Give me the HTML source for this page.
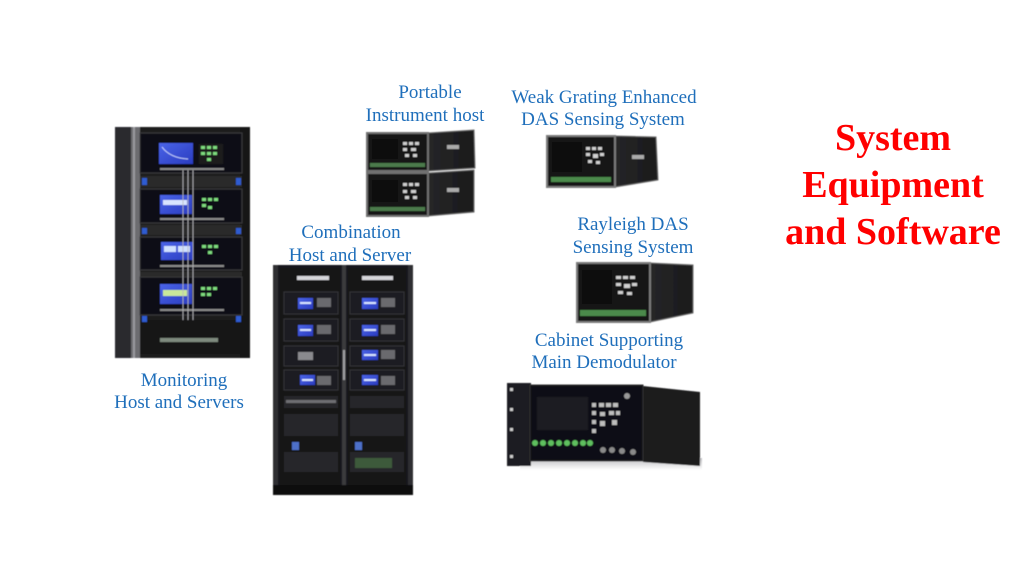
<!DOCTYPE html>
<html>
<head>
<meta charset="utf-8">
<style>
html,body{margin:0;padding:0;background:#fff;}
svg{display:block;}
.lb{font-family:"Liberation Serif",serif;font-size:19px;fill:#1f6fbb;text-anchor:middle;}
.tt{font-family:"Liberation Serif",serif;font-size:38px;font-weight:bold;fill:#f00;text-anchor:middle;}
</style>
</head>
<body>
<svg width="1024" height="576" viewBox="0 0 1024 576" xmlns="http://www.w3.org/2000/svg">
<defs>
<linearGradient id="scr" x1="0" y1="0" x2="1" y2="1">
<stop offset="0" stop-color="#4a64e8"/><stop offset="1" stop-color="#2a3cc0"/>
</linearGradient>
<linearGradient id="side" x1="0" y1="0" x2="1" y2="0">
<stop offset="0" stop-color="#262628"/><stop offset="1" stop-color="#1a1a1b"/>
</linearGradient>
<linearGradient id="shad" x1="0" y1="0" x2="0" y2="1">
<stop offset="0" stop-color="#bdbdc0"/><stop offset="1" stop-color="#ffffff"/>
</linearGradient>
<filter id="soft" x="-5%" y="-5%" width="110%" height="110%"><feGaussianBlur stdDeviation="0.5"/></filter>
</defs>

<!-- ===== Monitoring rack ===== -->
<g filter="url(#soft)">
<rect x="115" y="127" width="135" height="231" fill="#1b1b1d"/>
<rect x="115" y="127" width="16" height="231" fill="#2a2a2d"/>
<rect x="131" y="127" width="9" height="231" fill="#6c6c70"/>
<rect x="133" y="127" width="2" height="231" fill="#9a9a9e"/>
<rect x="240" y="127" width="10" height="231" fill="#141415"/>
<rect x="140" y="133" width="102" height="40" fill="#111113" stroke="#3a3a3c"/>
<rect x="159" y="143" width="34" height="21" fill="url(#scr)"/>
<path d="M162 147 Q170 158 188 159" stroke="#c8d4ff" fill="none" stroke-width="1"/>
<rect x="199" y="144" width="24" height="20" fill="#1a1f1a"/>
<g fill="#7fdc7f"><rect x="201" y="146" width="4" height="3"/><rect x="207" y="146" width="4" height="3"/><rect x="213" y="146" width="4" height="3"/><rect x="201" y="152" width="4" height="3"/><rect x="207" y="152" width="4" height="3"/><rect x="213" y="152" width="4" height="3"/><rect x="207" y="158" width="4" height="3"/></g>
<rect x="140" y="176" width="102" height="11" fill="#2a2a2c"/>
<rect x="140" y="189" width="102" height="34" fill="#111113" stroke="#3a3a3c"/>
<rect x="160" y="195" width="32" height="19" fill="url(#scr)"/>
<rect x="163" y="200" width="24" height="5" fill="#d8e4ff"/>
<g fill="#7fdc7f"><rect x="202" y="198" width="4" height="3"/><rect x="208" y="198" width="4" height="3"/><rect x="214" y="198" width="4" height="3"/><rect x="202" y="204" width="4" height="3"/><rect x="208" y="206" width="4" height="3"/></g>
<rect x="140" y="225" width="102" height="10" fill="#2a2a2c"/>
<rect x="140" y="237" width="102" height="33" fill="#111113" stroke="#3a3a3c"/>
<rect x="161" y="242" width="32" height="18" fill="url(#scr)"/>
<rect x="164" y="246" width="12" height="6" fill="#cfe0ff"/><rect x="178" y="246" width="12" height="6" fill="#cfe0ff"/>
<g fill="#7fdc7f"><rect x="202" y="245" width="4" height="3"/><rect x="208" y="245" width="4" height="3"/><rect x="214" y="245" width="4" height="3"/><rect x="208" y="251" width="4" height="3"/></g>
<rect x="140" y="272" width="102" height="4" fill="#2a2a2c"/>
<rect x="140" y="277" width="102" height="38" fill="#111113" stroke="#3a3a3c"/>
<rect x="160" y="284" width="32" height="20" fill="url(#scr)"/>
<rect x="163" y="290" width="24" height="6" fill="#c9e89a"/>
<g fill="#7fdc7f"><rect x="201" y="287" width="4" height="3"/><rect x="207" y="287" width="4" height="3"/><rect x="213" y="287" width="4" height="3"/><rect x="201" y="293" width="4" height="3"/><rect x="207" y="293" width="4" height="3"/></g>
<g fill="#8a8a8a"><rect x="160" y="168" width="64" height="2"/><rect x="160" y="218" width="64" height="2"/><rect x="160" y="265" width="64" height="2"/><rect x="160" y="309" width="64" height="2"/></g>
<g stroke="#b9b9bf" stroke-width="0.8" fill="none"><path d="M183 170 L183 330 Q175 345 150 350"/><path d="M188 170 L188 335 Q186 345 160 352"/><path d="M193 170 L193 330"/></g>
<rect x="140" y="320" width="102" height="34" fill="#161618"/>
<rect x="160" y="338" width="58" height="4" fill="#7e8a7e"/>
<g fill="#2d5bd0"><rect x="142" y="178" width="5" height="7"/><rect x="236" y="178" width="5" height="7"/><rect x="142" y="228" width="5" height="6"/><rect x="236" y="228" width="5" height="6"/><rect x="236" y="316" width="5" height="6"/><rect x="142" y="316" width="5" height="6"/></g>
</g>

<!-- ===== Combination cabinet ===== -->
<g filter="url(#soft)">
<rect x="273" y="265" width="140" height="230" fill="#18181a"/>
<rect x="273" y="265" width="5" height="230" fill="#2d2d30"/>
<rect x="408" y="265" width="5" height="230" fill="#2d2d30"/>
<rect x="342" y="265" width="4" height="230" fill="#3a3a3d"/>
<rect x="343" y="350" width="2" height="30" fill="#a0a0a4"/>
<rect x="280" y="268" width="60" height="222" fill="#121214"/>
<rect x="348" y="268" width="58" height="222" fill="#121214"/>
<rect x="297" y="276" width="32" height="4" fill="#d6d6da"/>
<rect x="362" y="276" width="31" height="4" fill="#d6d6da"/>
<g fill="#1e1e21" stroke="#353538"><rect x="284" y="292" width="54" height="22"/><rect x="284" y="319" width="54" height="22"/><rect x="284" y="346" width="54" height="20"/><rect x="284" y="370" width="54" height="20"/><rect x="350" y="292" width="54" height="22"/><rect x="350" y="319" width="54" height="22"/><rect x="350" y="346" width="54" height="20"/><rect x="350" y="370" width="54" height="20"/></g>
<g fill="url(#scr)"><rect x="298" y="298" width="15" height="11"/><rect x="298" y="325" width="15" height="11"/><rect x="300" y="375" width="15" height="10"/><rect x="362" y="298" width="16" height="11"/><rect x="362" y="325" width="16" height="11"/><rect x="362" y="350" width="16" height="10"/><rect x="362" y="375" width="16" height="10"/></g>
<rect x="298" y="352" width="15" height="8" fill="#8a8a8e"/>
<g fill="#d7e4ff"><rect x="300" y="302" width="11" height="2"/><rect x="300" y="329" width="11" height="2"/><rect x="364" y="302" width="12" height="2"/><rect x="364" y="329" width="12" height="2"/><rect x="364" y="354" width="12" height="2"/><rect x="364" y="379" width="12" height="2"/><rect x="302" y="379" width="11" height="2"/></g>
<g fill="#6a6a6e"><rect x="317" y="298" width="14" height="9"/><rect x="317" y="325" width="14" height="9"/><rect x="317" y="376" width="14" height="9"/><rect x="381" y="298" width="14" height="9"/><rect x="381" y="325" width="14" height="9"/><rect x="381" y="350" width="14" height="9"/><rect x="381" y="376" width="14" height="9"/></g>
<g fill="#262629"><rect x="284" y="396" width="54" height="12"/><rect x="350" y="396" width="54" height="12"/><rect x="284" y="414" width="54" height="22"/><rect x="350" y="414" width="54" height="22"/><rect x="284" y="452" width="54" height="20"/><rect x="350" y="452" width="54" height="20"/></g>
<rect x="286" y="400" width="50" height="3" fill="#6e6e72"/>
<rect x="292" y="442" width="7" height="8" fill="#4d6fc8"/>
<rect x="355" y="442" width="7" height="8" fill="#4d6fc8"/>
<rect x="355" y="458" width="37" height="10" fill="#3d5a3a"/>
<rect x="273" y="485" width="140" height="10" fill="#0e0e10"/>
</g>

<!-- ===== Portable instrument host ===== -->
<g filter="url(#soft)">
<polygon points="428,133 474,130 475,168 428,171" fill="url(#side)" stroke="#6a6a6a"/>
<rect x="367" y="133" width="61" height="38" fill="#141416" stroke="#707070" stroke-width="2"/>
<rect x="372" y="139" width="26" height="20" fill="#0a0a0b"/>
<g fill="#cfcfcf"><rect x="403" y="142" width="4" height="3"/><rect x="409" y="142" width="4" height="3"/><rect x="415" y="142" width="4" height="3"/><rect x="403" y="148" width="4" height="3"/><rect x="411" y="148" width="5" height="3"/><rect x="405" y="154" width="4" height="3"/><rect x="413" y="154" width="4" height="3"/></g>
<rect x="370" y="163" width="55" height="4" fill="#4c7a4c"/>
<rect x="447" y="145" width="12" height="4" fill="#aaa"/>
<polygon points="428,173 474,170 474,212 428,216" fill="url(#side)" stroke="#6a6a6a"/>
<rect x="367" y="173" width="61" height="43" fill="#141416" stroke="#707070" stroke-width="2"/>
<rect x="372" y="180" width="26" height="22" fill="#0a0a0b"/>
<g fill="#cfcfcf"><rect x="403" y="183" width="4" height="3"/><rect x="409" y="183" width="4" height="3"/><rect x="415" y="183" width="4" height="3"/><rect x="403" y="190" width="4" height="3"/><rect x="411" y="190" width="5" height="3"/><rect x="405" y="196" width="4" height="3"/><rect x="413" y="196" width="4" height="3"/></g>
<rect x="370" y="207" width="55" height="4" fill="#4c7a4c"/>
<rect x="447" y="188" width="12" height="4" fill="#aaa"/>
</g>

<!-- ===== Weak grating DAS ===== -->
<g filter="url(#soft)">
<polygon points="615,136 656,137 658,180 615,187" fill="url(#side)" stroke="#6a6a6a"/>
<rect x="547" y="136" width="68" height="51" fill="#141416" stroke="#7a7a7a" stroke-width="2"/>
<rect x="552" y="142" width="30" height="30" fill="#0a0a0b"/>
<g fill="#d0d0d0"><rect x="586" y="147" width="4" height="3"/><rect x="592" y="147" width="4" height="3"/><rect x="598" y="147" width="4" height="3"/><rect x="586" y="153" width="4" height="3"/><rect x="593" y="154" width="5" height="4"/><rect x="600" y="153" width="4" height="3"/><rect x="588" y="160" width="4" height="3"/><rect x="596" y="161" width="4" height="3"/></g>
<rect x="551" y="177" width="60" height="5" fill="#4c8a4c"/>
<rect x="632" y="155" width="12" height="4" fill="#aaa"/>
</g>

<!-- ===== Rayleigh DAS ===== -->
<g filter="url(#soft)">
<polygon points="650,263 693,265 693,313 650,322" fill="url(#side)" stroke="#6a6a6a"/>
<rect x="577" y="263" width="73" height="59" fill="#141416" stroke="#7a7a7a" stroke-width="2"/>
<rect x="582" y="270" width="30" height="34" fill="#0a0a0b"/>
<g fill="#d0d0d0"><rect x="616" y="276" width="5" height="3"/><rect x="623" y="276" width="5" height="3"/><rect x="630" y="276" width="5" height="3"/><rect x="616" y="283" width="5" height="3"/><rect x="624" y="284" width="6" height="4"/><rect x="632" y="283" width="5" height="3"/><rect x="618" y="291" width="5" height="3"/><rect x="627" y="292" width="5" height="3"/></g>
<rect x="580" y="310" width="66" height="6" fill="#4c8a4c"/>
</g>

<!-- ===== Cabinet main demodulator ===== -->
<g filter="url(#soft)">
<rect x="520" y="458" width="182" height="12" fill="url(#shad)"/>
<polygon points="643,386 700,392 700,466 643,462" fill="#1c1c1e"/>
<rect x="507" y="383" width="24" height="83" fill="#1e1e20"/>
<g fill="#cfcfcf"><rect x="510" y="388" width="3" height="3"/><rect x="510" y="408" width="3" height="3"/><rect x="510" y="428" width="3" height="3"/><rect x="510" y="455" width="3" height="3"/></g>
<rect x="530" y="385" width="113" height="76" fill="#111113" stroke="#333"/>
<rect x="537" y="397" width="51" height="33" fill="#1d1d20"/>
<g fill="#bdbdbd"><rect x="592" y="403" width="4" height="4"/><rect x="599" y="403" width="5" height="4"/><rect x="606" y="403" width="5" height="4"/><rect x="613" y="403" width="5" height="4"/><rect x="592" y="411" width="4" height="4"/><rect x="600" y="412" width="5" height="4"/><rect x="609" y="411" width="5" height="4"/><rect x="616" y="411" width="4" height="4"/><rect x="592" y="420" width="4" height="4"/><rect x="600" y="421" width="5" height="5"/><rect x="612" y="420" width="5" height="5"/><rect x="592" y="429" width="4" height="4"/></g>
<circle cx="627" cy="396" r="3" fill="#999"/>
<g fill="#5fbf5f"><circle cx="535" cy="443" r="3"/><circle cx="543" cy="443" r="3"/><circle cx="551" cy="443" r="3"/><circle cx="559" cy="443" r="3"/><circle cx="567" cy="443" r="3"/><circle cx="575" cy="443" r="3"/><circle cx="583" cy="443" r="3"/><circle cx="590" cy="443" r="3"/></g>
<g fill="#8a8a8a"><circle cx="603" cy="450" r="3"/><circle cx="612" cy="450" r="3"/><circle cx="622" cy="451" r="3"/><circle cx="633" cy="452" r="3"/></g>
</g>

<!-- ===== Labels ===== -->
<text class="lb" x="430" y="98">Portable</text>
<text class="lb" x="425" y="121">Instrument host</text>
<text class="lb" x="604" y="103">Weak Grating Enhanced</text>
<text class="lb" x="603" y="125">DAS Sensing System</text>
<text class="lb" x="633" y="230">Rayleigh DAS</text>
<text class="lb" x="633" y="253">Sensing System</text>
<text class="lb" x="351" y="238">Combination</text>
<text class="lb" x="350" y="261">Host and Server</text>
<text class="lb" x="609" y="346">Cabinet Supporting</text>
<text class="lb" x="604" y="368">Main Demodulator</text>
<text class="lb" x="184" y="386">Monitoring</text>
<text class="lb" x="179" y="408">Host and Servers</text>

<text class="tt" x="893" y="150">System</text>
<text class="tt" x="893" y="197">Equipment</text>
<text class="tt" x="893" y="244">and Software</text>
</svg>
</body>
</html>
